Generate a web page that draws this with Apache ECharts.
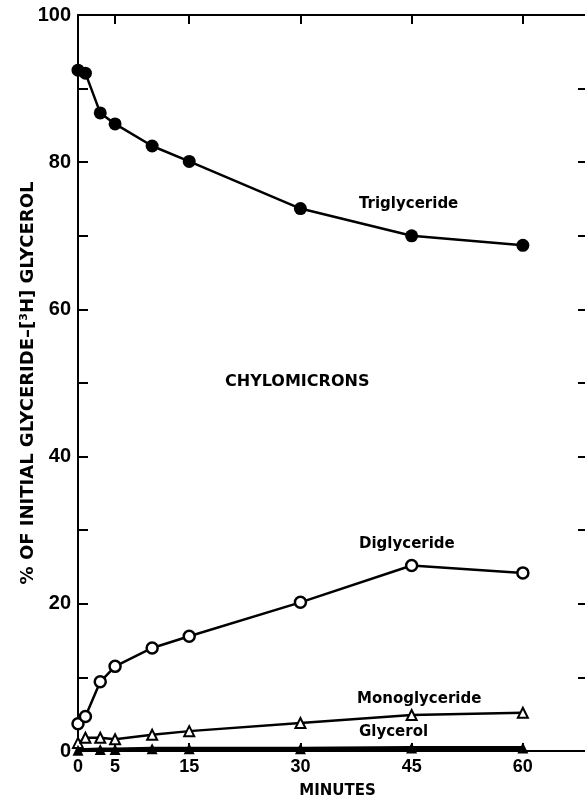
<!DOCTYPE html>
<html>
<head>
<meta charset="utf-8">
<script src="https://cdn.jsdelivr.net/npm/echarts@6/dist/echarts.min.js"></script>
<style>
  html, body { margin: 0; padding: 0; background: #fff; }
  #chart { width: 585px; height: 800px; }
</style>
</head>
<body>
<div id="chart"></div>
<script>
// minutes after start
const minutes = [0, 1, 3, 5, 10, 15, 30, 45, 60];
const glycerolMinutes = [0, 3, 5, 10, 15, 30, 45, 60];

// % of initial glyceride-[3H] glycerol
const triglyceride = [92.5, 92.1, 86.7, 85.2, 82.2, 80.1, 73.7, 70.0, 68.7];
const diglyceride = [3.7, 4.7, 9.4, 11.5, 14.0, 15.6, 20.2, 25.2, 24.2];
const monoglyceride = [1.1, 1.8, 1.8, 1.6, 2.2, 2.7, 3.8, 4.9, 5.2];
const glycerol = [0.1, 0.2, 0.2, 0.3, 0.3, 0.3, 0.4, 0.4];

const xTicks = [0, 5, 15, 30, 45, 60];

const pairs = (xs, ys) => xs.map((x, i) => [x, ys[i]]);

const chart = echarts.init(document.getElementById('chart'));
chart.clear();

const bold = 'DejaVu Sans';
const numFont = 'Liberation Sans';

const option = {
    backgroundColor: '#fff',
    animation: false,
    grid: { left: 78, top: 15, width: 519, height: 736, outerBoundsMode: 'none', containLabel: false },
    xAxis: [
        {
            type: 'value',
            min: 0,
            max: 70,
            position: 'bottom',
            name: 'MINUTES',
            nameLocation: 'middle',
            nameGap: 33,
            nameTextStyle: { fontFamily: bold, fontWeight: 'bold', fontSize: 15, color: '#000' },
            axisLine: { show: true, lineStyle: { color: '#000', width: 2 } },
            axisTick: { show: true, inside: true, length: 8, customValues: xTicks, lineStyle: { color: '#000', width: 2 } },
            axisLabel: { customValues: xTicks, margin: 7, fontFamily: numFont, fontWeight: 'bold', fontSize: 18, color: '#000' },
            splitLine: { show: false }
        },
        {
            type: 'value',
            min: 0,
            max: 70,
            position: 'top',
            axisLine: { show: true, onZero: false, lineStyle: { color: '#000', width: 2 } },
            axisTick: { show: true, inside: true, length: 9, customValues: [5, 15, 30, 45, 60], lineStyle: { color: '#000', width: 2 } },
            axisLabel: { show: false },
            splitLine: { show: false }
        }
    ],
    yAxis: [
        {
            type: 'value',
            min: 0,
            max: 100,
            interval: 10,
            position: 'left',
            name: '{a|% OF INITIAL GLYCERIDE–[}{s|3}{a|H] GLYCEROL}',
            nameLocation: 'middle',
            nameGap: 40,
            nameMoveOverlap: false,
            nameRotate: 90,
            nameTextStyle: {
                rich: {
                    a: { fontFamily: bold, fontWeight: 'bold', fontSize: 18, color: '#000' },
                    s: { fontFamily: bold, fontWeight: 'bold', fontSize: 11, color: '#000', verticalAlign: 'top', padding: [0, 0, 8, 0] }
                }
            },
            axisLine: { show: true, onZero: false, lineStyle: { color: '#000', width: 2 } },
            axisTick: { show: true, inside: true, length: 10, lineStyle: { color: '#000', width: 2 } },
            axisLabel: {
                margin: 7,
                fontFamily: numFont,
                fontWeight: 'bold',
                fontSize: 20,
                color: '#000',
                formatter: v => (v % 20 === 0 ? String(v) : '')
            },
            splitLine: { show: false }
        },
        {
            type: 'value',
            min: 0,
            max: 100,
            interval: 10,
            position: 'right',
            axisLine: { show: true, onZero: false, lineStyle: { color: '#000', width: 2 } },
            axisTick: { show: true, inside: true, length: 19, lineStyle: { color: '#000', width: 2 } },
            axisLabel: { show: false },
            splitLine: { show: false }
        }
    ],
    series: [
        {
            name: 'Triglyceride',
            type: 'line',
            data: pairs(minutes, triglyceride),
            symbol: 'circle',
            symbolSize: 13,
            lineStyle: { color: '#000', width: 2.5 },
            itemStyle: { color: '#000' }
        },
        {
            name: 'Diglyceride',
            type: 'line',
            data: pairs(minutes, diglyceride),
            symbol: 'circle',
            symbolSize: 11,
            lineStyle: { color: '#000', width: 2.5 },
            itemStyle: { color: '#fff', borderColor: '#000', borderWidth: 2.5 }
        },
        {
            name: 'Monoglyceride',
            type: 'line',
            data: pairs(minutes, monoglyceride),
            symbol: 'triangle',
            symbolSize: 10,
            lineStyle: { color: '#000', width: 2.5 },
            itemStyle: { color: '#fff', borderColor: '#000', borderWidth: 2 }
        },
        {
            name: 'Glycerol',
            type: 'line',
            data: pairs(glycerolMinutes, glycerol),
            symbol: 'triangle',
            symbolSize: 11,
            lineStyle: { color: '#000', width: 4 },
            itemStyle: { color: '#000' }
        }
    ],
    graphic: [
        { type: 'text', x: 359, y: 204, style: { text: 'Triglyceride', font: 'bold 15px "DejaVu Sans"', fill: '#000', verticalAlign: 'middle' } },
        { type: 'text', x: 359, y: 544, style: { text: 'Diglyceride', font: 'bold 15px "DejaVu Sans"', fill: '#000', verticalAlign: 'middle' } },
        { type: 'text', x: 357, y: 699, style: { text: 'Monoglyceride', font: 'bold 15px "DejaVu Sans"', fill: '#000', verticalAlign: 'middle' } },
        { type: 'text', x: 359, y: 732, style: { text: 'Glycerol', font: 'bold 15px "DejaVu Sans"', fill: '#000', verticalAlign: 'middle' } },
        { type: 'text', x: 225, y: 382, style: { text: 'CHYLOMICRONS', font: 'bold 16px "DejaVu Sans"', fill: '#000', verticalAlign: 'middle' } }
    ]
};

chart.setOption(option);
</script>
</body>
</html>
